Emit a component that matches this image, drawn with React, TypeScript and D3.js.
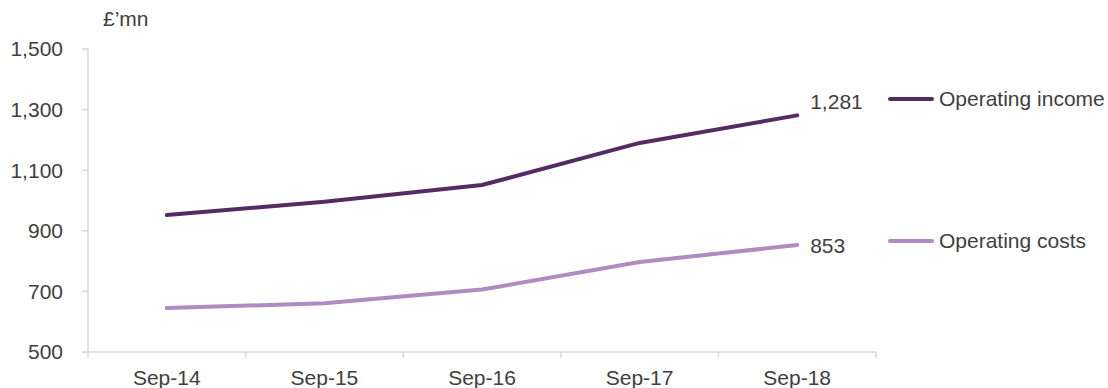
import React from "react";
import * as d3 from "d3";

const categories = ["Sep-14", "Sep-15", "Sep-16", "Sep-17", "Sep-18"];
const operatingIncome = [952, 996, 1051, 1190, 1281];
const operatingCosts = [645, 661, 706, 797, 853];
const yTicks = [500, 700, 900, 1100, 1300, 1500];

const W = 1108;
const H = 388;
const left = 88;
const right = 876;
const top = 49;
const bottom = 352;
const FONT = "'Liberation Sans', Arial, sans-serif";
const TXT = "#404040";
const AX = "#d9d9d9";
const FS = 21;

export default function App() {
  const x = d3.scaleBand().domain(categories).range([left, right]).padding(0);
  const y = d3.scaleLinear().domain([500, 1500]).range([bottom, top]);
  const cx = (c: string) => (x(c) as number) + x.bandwidth() / 2;
  const line = d3
    .line<number>()
    .x((_, i) => cx(categories[i]))
    .y((d) => y(d))
    .curve(d3.curveLinear);

  const series = [
    { name: "Operating income", values: operatingIncome, color: "#552B63", legendY: 99, labelDy: -14 },
    { name: "Operating costs", values: operatingCosts, color: "#AE8BC0", legendY: 241, labelDy: 1 },
  ];

  const boundaries = categories.map((c) => x(c) as number).concat([right]);

  return (
    <svg
      width={W}
      height={H}
      style={{ display: "block", fontFamily: FONT, position: "fixed", left: 0, top: 0 }}
    >
      <rect width={W} height={H} fill="#fff" />
      <text x={103} y={26} fontSize={FS} fill={TXT}>£’mn</text>
      {/* y axis */}
      <line x1={left} x2={left} y1={top} y2={bottom} stroke={AX} strokeWidth={1.5} />
      {yTicks.map((t) => (
        <g key={t}>
          <line x1={left - 6} x2={left} y1={y(t)} y2={y(t)} stroke={AX} strokeWidth={1.5} />
          <text x={63} y={y(t)} dy="0.35em" textAnchor="end" fontSize={FS} fill={TXT}>
            {d3.format(",")(t)}
          </text>
        </g>
      ))}
      {/* x axis */}
      <line x1={left - 6} x2={right} y1={bottom} y2={bottom} stroke={AX} strokeWidth={1.5} />
      {boundaries.map((b, i) => (
        <line key={i} x1={b} x2={b} y1={bottom} y2={bottom + 6} stroke={AX} strokeWidth={1.5} />
      ))}
      {categories.map((c) => (
        <text key={c} x={cx(c)} y={385} textAnchor="middle" fontSize={FS} fill={TXT}>
          {c}
        </text>
      ))}
      {series.map((s) => {
        const last = s.values[s.values.length - 1];
        return (
          <g key={s.name}>
            <path
              d={line(s.values) || ""}
              fill="none"
              stroke={s.color}
              strokeWidth={4}
              strokeLinecap="round"
              strokeLinejoin="round"
            />
            <text
              x={cx(categories[categories.length - 1]) + 13}
              y={y(last) + s.labelDy}
              dy="0.35em"
              fontSize={FS}
              fill={TXT}
            >
              {d3.format(",")(last)}
            </text>
            <line x1={890} x2={932} y1={s.legendY} y2={s.legendY} stroke={s.color} strokeWidth={4} strokeLinecap="round" />
            <text x={939} y={s.legendY} dy="0.35em" fontSize={FS} fill={TXT}>
              {s.name}
            </text>
          </g>
        );
      })}
    </svg>
  );
}
